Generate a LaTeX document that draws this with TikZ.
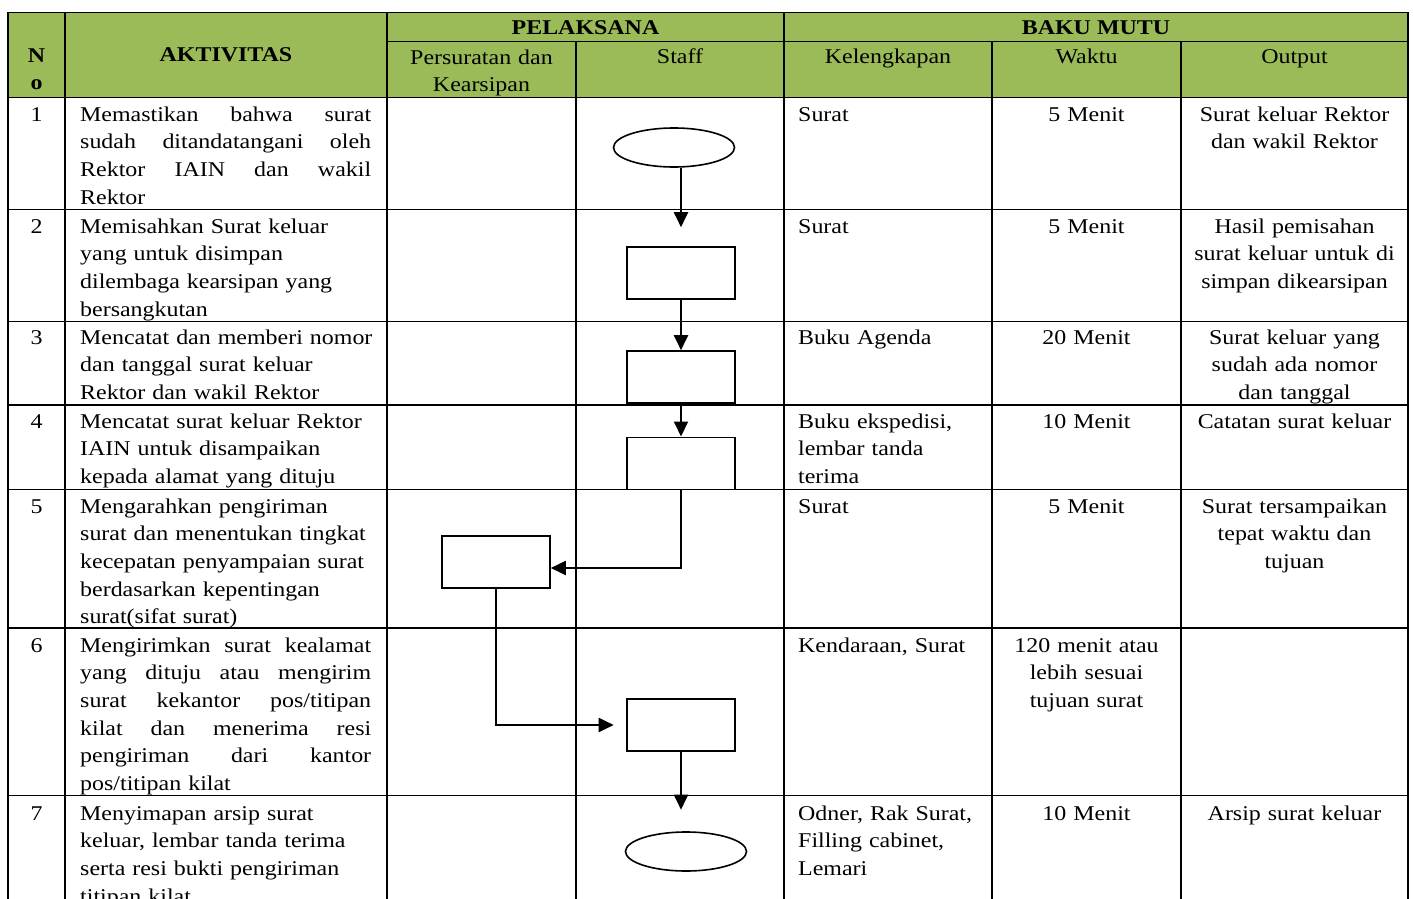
\documentclass[tikz,border=0pt]{standalone}
\usepackage{fontspec}
\setmainfont[FakeStretch=1.14]{Liberation Serif}
\usetikzlibrary{arrows.meta,shapes.geometric}

\definecolor{hdrgreen}{HTML}{9BBB59}
\newcommand\tabfont{\fontsize{21}{27.6}\selectfont}
\newcommand\jline[1]{\leavevmode\hbox to 291pt{#1}}

\tikzset{
  tabline/.style={black,line width=1.8pt,line cap=rect},
  procbox/.style={draw,line width=1.6pt,minimum width=108pt,minimum height=52pt,inner sep=0pt},
  termnode/.style={draw,ellipse,line width=1.6pt,minimum width=121pt,minimum height=39pt,inner sep=0pt},
  flow/.style={line width=2pt,-{Triangle[length=15pt,width=14pt]}},
  hdr/.style={anchor=base,inner sep=0pt,font=\tabfont\bfseries},
  hdrsub/.style={anchor=base,inner sep=0pt},
  cellL/.style={anchor=north west,inner sep=0pt,text width=#1,align=left},
  cellC/.style={anchor=north,inner sep=0pt,text width=#1,align=center}
}

\begin{document}
\begin{tikzpicture}[x=1pt,y=-1pt,font=\tabfont]
  \clip (0,0) rectangle (1414,899);
  \fill[white] (0,0) rectangle (1414,899);

  % Green header band
  \fill[hdrgreen] (8,12.5) rectangle (1408,97.5);

  % Header texts
  \node[cellC=50pt,font=\tabfont\bfseries] (hno) at (36.5,42.7) {\strut N\\o};
  \node[hdr] (hakt) at (226,62) {AKTIVITAS};
  \node[hdr] (hpel) at (585.5,35) {PELAKSANA};
  \node[hdr] (hbaku) at (1096,35) {BAKU MUTU};
  \node[cellC=180pt] (hpers) at (481.5,44.7) {\strut Persuratan dan\\Kearsipan};
  \node[hdrsub] (hstaff) at (680,64) {Staff};
  \node[hdrsub] (hkel) at (888,64) {Kelengkapan};
  \node[hdrsub] (hwak) at (1086.5,64) {Waktu};
  \node[hdrsub] (hout) at (1294.5,64) {Output};

  % Row 1
  \node[cellC=50pt] (n1) at (36.5,101.7) {\strut 1};
  \node[cellL=295pt] (a1) at (80,101.7) {\strut\jline{Memastikan\hfill bahwa\hfill surat}\\
    \jline{sudah\hfill ditandatangani\hfill oleh}\\
    \jline{Rektor\hfill IAIN\hfill dan\hfill wakil}\\Rektor};
  \node[cellL=185pt] (k1) at (798,101.7) {\strut Surat};
  \node[cellC=180pt] (w1) at (1086.5,101.7) {\strut 5 Menit};
  \node[cellC=215pt] (o1) at (1294.5,101.7) {\strut Surat keluar Rektor\\dan wakil Rektor};

  % Row 2
  \node[cellC=50pt] (n2) at (36.5,213.7) {\strut 2};
  \node[cellL=295pt] (a2) at (80,213.7) {\strut Memisahkan Surat keluar\\yang untuk disimpan\\dilembaga kearsipan yang\\bersangkutan};
  \node[cellL=185pt] (k2) at (798,213.7) {\strut Surat};
  \node[cellC=180pt] (w2) at (1086.5,213.7) {\strut 5 Menit};
  \node[cellC=215pt] (o2) at (1294.5,213.7) {\strut Hasil pemisahan\\surat keluar untuk di\\simpan dikearsipan};

  % Row 3
  \node[cellC=50pt] (n3) at (36.5,324.7) {\strut 3};
  \node[cellL=295pt] (a3) at (80,324.7) {\strut Mencatat dan memberi nomor\\dan tanggal surat keluar\\Rektor dan wakil Rektor};
  \node[cellL=185pt] (k3) at (798,324.7) {\strut Buku Agenda};
  \node[cellC=180pt] (w3) at (1086.5,324.7) {\strut 20 Menit};
  \node[cellC=215pt] (o3) at (1294.5,324.7) {\strut Surat keluar yang\\sudah ada nomor\\dan tanggal};

  % Row 4
  \node[cellC=50pt] (n4) at (36.5,408.7) {\strut 4};
  \node[cellL=295pt] (a4) at (80,408.7) {\strut Mencatat surat keluar Rektor\\IAIN untuk disampaikan\\kepada alamat yang dituju};
  \node[cellL=185pt] (k4) at (798,408.7) {\strut Buku ekspedisi,\\lembar tanda\\terima};
  \node[cellC=180pt] (w4) at (1086.5,408.7) {\strut 10 Menit};
  \node[cellC=215pt] (o4) at (1294.5,408.7) {\strut Catatan surat keluar};

  % Row 5
  \node[cellC=50pt] (n5) at (36.5,493.7) {\strut 5};
  \node[cellL=295pt] (a5) at (80,493.7) {\strut Mengarahkan pengiriman\\surat dan menentukan tingkat\\kecepatan penyampaian surat\\berdasarkan kepentingan\\surat(sifat surat)};
  \node[cellL=185pt] (k5) at (798,493.7) {\strut Surat};
  \node[cellC=180pt] (w5) at (1086.5,493.7) {\strut 5 Menit};
  \node[cellC=215pt] (o5) at (1294.5,493.7) {\strut Surat tersampaikan\\tepat waktu dan\\tujuan};

  % Row 6
  \node[cellC=50pt] (n6) at (36.5,632.7) {\strut 6};
  \node[cellL=295pt] (a6) at (80,632.7) {\strut\jline{Mengirimkan\hfill surat\hfill kealamat}\\
    \jline{yang\hfill dituju\hfill atau\hfill mengirim}\\
    \jline{surat\hfill kekantor\hfill pos/titipan}\\
    \jline{kilat\hfill dan\hfill menerima\hfill resi}\\
    \jline{pengiriman\hfill dari\hfill kantor}\\pos/titipan kilat};
  \node[cellL=185pt] (k6) at (798,632.7) {\strut Kendaraan, Surat};
  \node[cellC=180pt] (w6) at (1086.5,632.7) {\strut 120 menit atau\\lebih sesuai\\tujuan surat};

  % Row 7
  \node[cellC=50pt] (n7) at (36.5,800.7) {\strut 7};
  \node[cellL=295pt] (a7) at (80,800.7) {\strut Menyimapan arsip surat\\keluar, lembar tanda terima\\serta resi bukti pengiriman\\titipan kilat};
  \node[cellL=185pt] (k7) at (798,800.7) {\strut Odner, Rak Surat,\\Filling cabinet,\\Lemari};
  \node[cellC=180pt] (w7) at (1086.5,800.7) {\strut 10 Menit};
  \node[cellC=215pt] (o7) at (1294.5,800.7) {\strut Arsip surat keluar};

  % Table rules
  \draw[tabline] (8,12.5) -- (1408,12.5);
  \draw[tabline] (387,41.5) -- (1408,41.5);
  \draw[tabline] (8,97.5) -- (1408,97.5);
  \foreach \y in {209.5,321.5,405,489.5,628,795.5} {
    \draw[tabline] (8,\y) -- (1408,\y);
  }
  \foreach \x in {8,65,387,784,1408} {
    \draw[tabline] (\x,12.5) -- (\x,905);
  }
  \foreach \x in {576,992,1181} {
    \draw[tabline] (\x,41.5) -- (\x,905);
  }

  % Flow symbols
  \node[termnode] (e1) at (674,147.5) {};
  \node[procbox] (b2) at (681,273) {};
  \node[procbox] (b3) at (681,377) {};
  \node[procbox] (b4) at (681,463.3) {};
  \node[procbox] (b5) at (496,562) {};
  \node[procbox] (b6) at (681,725) {};
  \node[termnode] (e7) at (686,851.5) {};

  % Flow connectors
  \draw[flow,shorten >=19pt] (e1.south -| b2) -- (b2.north);
  \draw[flow] (b2.south) -- (b3.north);
  \draw[flow] (b3.south) -- (b4.north);
  \draw[flow] (b4.south) |- ([yshift=-6pt]b5.east);
  \draw[flow,shorten >=12.5pt] (b5.south) |- (b6.west);
  \draw[flow,shorten >=21.5pt] (b6.south) -- (e7.north -| b6);
\end{tikzpicture}
\end{document}
